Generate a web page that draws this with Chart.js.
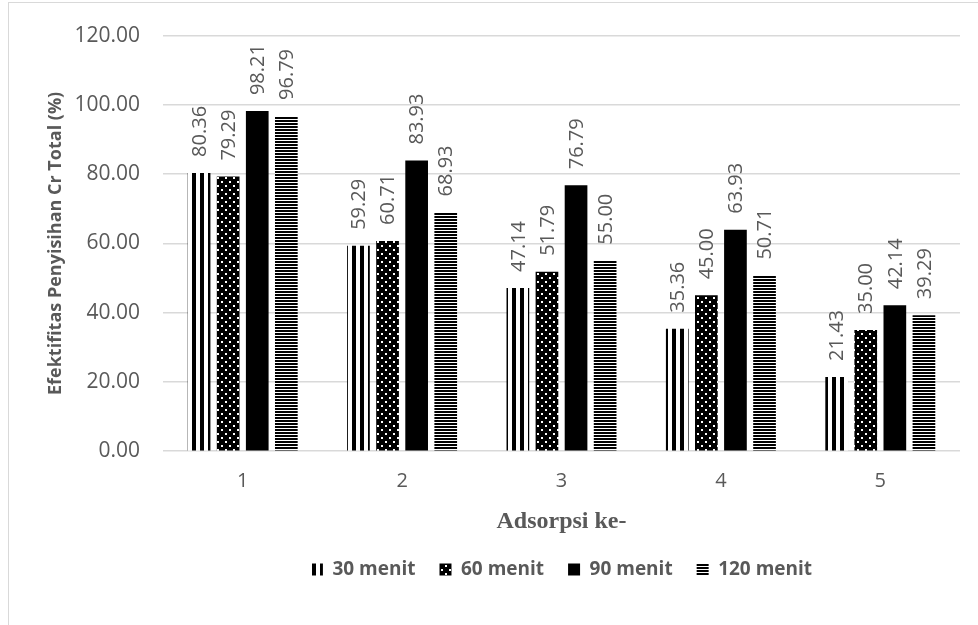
<!DOCTYPE html>
<html>
<head>
<meta charset="utf-8">
<script src="https://cdn.jsdelivr.net/npm/chart.js@4.4.1/dist/chart.umd.min.js"></script>
<style>
  html, body { margin: 0; padding: 0; background: #fff; }
  #wrap { position: relative; width: 978px; height: 625px; overflow: hidden; }
  #frame { position: absolute; left: 8px; top: 2px; width: 1000px; height: 700px; border: 1px solid #d9d9d9; box-sizing: border-box; }
  #chart { position: absolute; left: 0; top: 0; }
</style>
</head>
<body>
<div id="wrap">
  <div id="frame"></div>
  <canvas id="chart" width="978" height="625"></canvas>
</div>
<script>
const categories = ['1', '2', '3', '4', '5'];
const seriesNames = ['30 menit', '60 menit', '90 menit', '120 menit'];
const menit30 = [80.36, 59.29, 47.14, 35.36, 21.43];
const menit60 = [79.29, 60.71, 51.79, 45.00, 35.00];
const menit90 = [98.21, 83.93, 76.79, 63.93, 42.14];
const menit120 = [96.79, 68.93, 55.00, 50.71, 39.29];
const yTicks = [0, 20, 40, 60, 80, 100, 120];

const gray = '#595959';

function makePattern(w, h, draw) {
    const c = document.createElement('canvas');
    c.width = w;
    c.height = h;
    const g = c.getContext('2d');
    draw(g);
    return g.createPattern(c, 'repeat');
}

// vertical stripes
const vStripes = makePattern(8, 8, g => {
    g.fillStyle = '#fff';
    g.fillRect(0, 0, 8, 8);
    g.fillStyle = '#000';
    g.fillRect(0, 0, 4, 8);
});
// black with white dots
const dots = makePattern(8, 8, g => {
    g.fillStyle = '#000';
    g.fillRect(0, 0, 8, 8);
    g.fillStyle = '#fff';
    g.fillRect(1, 1, 2, 2);
    g.fillRect(5, 5, 2, 2);
});
// horizontal lines
const hStripes = makePattern(4, 3, g => {
    g.fillStyle = '#fff';
    g.fillRect(0, 0, 4, 3);
    g.fillStyle = '#000';
    g.fillRect(0, 0, 4, 2);
});

const fills = [vStripes, dots, '#000', hStripes];
const values = [menit30, menit60, menit90, menit120];

const valueLabels = {
    id: 'valueLabels',
    afterDatasetsDraw(chart) {
        const ctx = chart.ctx;
        ctx.save();
        ctx.fillStyle = gray;
        ctx.font = '20px "Open Sans"';
        ctx.textAlign = 'left';
        ctx.textBaseline = 'middle';
        chart.data.datasets.forEach((ds, i) => {
            chart.getDatasetMeta(i).data.forEach((bar, j) => {
                ctx.save();
                ctx.translate(bar.x, bar.y - 16);
                ctx.rotate(-Math.PI / 2);
                ctx.fillText(ds.data[j].toFixed(2), 0, 1);
                ctx.restore();
            });
        });
        ctx.restore();
    }
};

new Chart(document.getElementById('chart').getContext('2d'), {
    type: 'bar',
    data: {
        labels: categories,
        datasets: seriesNames.map((name, i) => ({
            label: name,
            data: values[i],
            backgroundColor: fills[i],
            borderWidth: 0,
            categoryPercentage: 0.73,
            barPercentage: 0.78
        }))
    },
    options: {
        responsive: false,
        animation: false,
        layout: { padding: { left: 45, right: 18, top: 20, bottom: 36 } },
        plugins: {
            tooltip: { enabled: false },
            legend: {
                position: 'bottom',
                fullSize: false,
                labels: {
                    color: gray,
                    font: { family: 'Open Sans', size: 19, weight: 'bold' },
                    boxWidth: 12,
                    boxHeight: 12,
                    padding: 24
                }
            }
        },
        scales: {
            y: {
                min: 0,
                max: 120,
                afterBuildTicks: axis => { axis.ticks = yTicks.map(v => ({ value: v })); },
                afterFit: axis => { axis.width = 118; },
                border: { display: false },
                grid: { color: '#d9d9d9', lineWidth: 1.5, drawTicks: false },
                ticks: {
                    color: gray,
                    font: { family: 'Open Sans', size: 21 },
                    padding: 23,
                    callback: v => Number(v).toFixed(2)
                },
                title: {
                    display: true,
                    text: 'Efektifitas Penyisihan Cr Total (%)',
                    color: gray,
                    font: { family: 'Open Sans', size: 18, weight: 'bold' },
                    padding: { top: 0, bottom: 0 }
                }
            },
            x: {
                border: { display: false },
                grid: { display: false },
                ticks: {
                    color: gray,
                    font: { family: 'Open Sans', size: 20 },
                    padding: 10
                },
                title: {
                    display: true,
                    text: 'Adsorpsi ke-',
                    color: gray,
                    font: { family: 'Liberation Serif', size: 24, weight: 'bold' },
                    padding: { top: 4, bottom: 0 }
                }
            }
        }
    },
    plugins: [valueLabels]
});
</script>
</body>
</html>
